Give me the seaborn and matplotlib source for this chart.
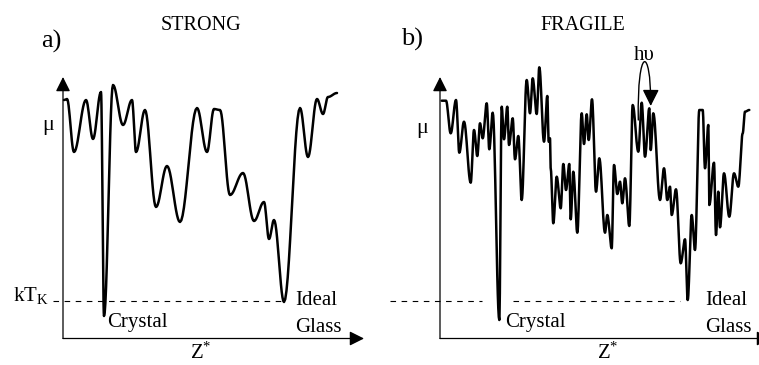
import numpy as np
import pandas as pd
import seaborn as sns
import matplotlib
matplotlib.use("Agg")
import matplotlib.pyplot as plt
from matplotlib.path import Path
from matplotlib.patches import FancyArrowPatch

# ---------------- data (schematic, pixel frame) ----------------
# STRONG landscape: extrema of the curve (x, y)
strong_x = [64, 67, 74, 86, 93, 101, 104, 113, 123, 132, 136, 145, 156, 167, 180, 197, 207,
            214, 220, 230, 243, 254, 264, 269, 274, 284, 300, 308, 317, 323, 328, 337]
strong_y = [100, 99, 152, 100, 139, 92, 316, 85, 125, 100, 152, 110, 207, 166, 222, 108, 152,
            109, 110, 195, 173, 221, 202, 239, 220, 302, 108, 157, 99, 114, 97, 93]

# FRAGILE landscape: extrema of the curve (x, y)
fragile_x = [441.7, 446.0, 450.7, 456.0, 459.3, 464.0, 470.7, 474.0, 477.3, 480.0, 482.7, 486.7,
             489.3, 492.7, 499.3, 501.7, 504.0, 507.3, 509.0, 512.7, 515.0, 518.3, 521.7, 526.7,
             530.0, 532.7, 536.7, 539.3, 544.0, 547.3, 548.7, 550.0, 550.7, 553.3, 556.7, 560.7,
             563.3, 566.0, 569.3, 570.7, 573.3, 577.3, 581.7, 584.0, 586.7, 588.7, 592.0, 596.0,
             599.3, 605.0, 607.3, 611.7, 614.0, 617.3, 620.0, 622.3, 625.0, 629.3, 632.7, 638.3,
             641.7, 645.0, 649.3, 650.7, 653.3, 660.0, 664.0, 667.3, 670.0, 671.7, 676.0, 680.7,
             685.0, 687.7, 691.7, 695.0, 699.3, 702.7, 705.0, 708.3, 709.3, 714.0, 716.0, 718.3,
             720.0, 724.0, 729.3, 734.0, 738.3, 742.7, 745.0, 749.3]
fragile_y = [100.7, 100.7, 133.3, 100.0, 152.7, 121.7, 182.7, 130.0, 156.0, 123.3, 138.3, 103.3,
             149.3, 112.7, 320.0, 106.7, 139.3, 106.7, 145.0, 118.3, 159.3, 136.0, 200.0, 80.0,
             113.3, 78.3, 114.0, 67.3, 141.7, 96.0, 141.7, 138.3, 168.3, 223.3, 176.7, 208.3,
             164.0, 190.0, 164.0, 219.3, 171.7, 232.7, 113.3, 144.0, 114.3, 140.0, 99.3, 191.7,
             158.3, 232.7, 215.0, 248.3, 165.0, 194.0, 181.7, 203.3, 178.3, 226.0, 105.0, 151.7,
             102.7, 156.7, 108.3, 150.0, 113.3, 200.0, 168.3, 200.0, 186.7, 215.0, 189.3, 263.3,
             239.3, 300.0, 215.0, 250.0, 110.0, 110.0, 168.3, 125.0, 205.0, 162.7, 235.0, 191.7,
             227.3, 173.3, 216.7, 173.3, 186.7, 133.3, 111.7, 110.0]

# Kauzmann level (dashed) segments
strong_dash_x = [53, 283]
fragile_dash_a = [390, 482]
fragile_dash_b = [513, 680]
kt_level = 300.5

panel_labels = ["a)", "b)"]
panel_titles = ["STRONG", "FRAGILE"]


def smooth(xs, ys, n=14):
    """Cosine easing between consecutive extrema (rendering only)."""
    ox, oy = [xs[0]], [ys[0]]
    for i in range(len(xs) - 1):
        t = np.linspace(0, 1, n)[1:]
        e = (1 - np.cos(np.pi * t)) / 2
        ox.extend(xs[i] + (xs[i + 1] - xs[i]) * t)
        oy.extend(ys[i] + (ys[i + 1] - ys[i]) * e)
    return pd.DataFrame({"x": ox, "y": oy})


sns.set_theme(style="white")
plt.rcParams["font.family"] = ["Liberation Serif", "DejaVu Serif"]
plt.rcParams["mathtext.fontset"] = "custom"
plt.rcParams["mathtext.rm"] = "Liberation Serif"
plt.rcParams["mathtext.it"] = "Liberation Serif:italic"

fig = plt.figure(figsize=(7.59, 3.65), dpi=100)
ax = fig.add_axes([0, 0, 1, 1])
ax.set_xlim(0, 759)
ax.set_ylim(365, 0)
ax.axis("off")

# curves
for xs, ys in [(strong_x, strong_y), (fragile_x, fragile_y)]:
    df = smooth(xs, ys)
    sns.lineplot(data=df, x="x", y="y", sort=False, estimator=None, ax=ax,
                 color="black", lw=1.8, solid_joinstyle="round")

# dashed Kauzmann lines
for seg in [strong_dash_x, fragile_dash_a, fragile_dash_b]:
    sns.lineplot(x=seg, y=[kt_level, kt_level], ax=ax, color="black", lw=0.8,
                 linestyle=(0, (5, 5)), estimator=None)

# axes arrows
arr = dict(arrowstyle="-|>,head_length=0.8,head_width=0.4", lw=0.9, color="black",
           mutation_scale=11, shrinkA=0, shrinkB=0)
for x0, xend in [(63, 364), (440, 771)]:
    ax.annotate("", xy=(x0, 77), xytext=(x0, 338.5), arrowprops=arr, annotation_clip=False)
    ax.annotate("", xy=(xend, 338.5), xytext=(x0, 338.5), arrowprops=arr, annotation_clip=False)

# h-nu curved arrow
p = Path([(638.3, 120), (637, 45), (651, 45), (650.7, 106)],
         [Path.MOVETO, Path.CURVE4, Path.CURVE4, Path.CURVE4])
ax.add_patch(FancyArrowPatch(path=p, arrowstyle="-|>,head_length=1.0,head_width=0.5",
                             mutation_scale=10, lw=1.0, color="black"))

fs = 15
txt = dict(color="black", fontsize=fs)
ax.text(51, 41, panel_labels[0], ha="center", va="center", fontsize=19, color="black")
ax.text(412, 39, panel_labels[1], ha="center", va="center", fontsize=19, color="black")
ax.text(201, 25, panel_titles[0], ha="center", va="center", fontsize=14.5, color="black")
ax.text(583, 25, panel_titles[1], ha="center", va="center", fontsize=14.5, color="black")
ax.text(644, 56, "h\u03c5", ha="center", va="center", **txt)

ax.text(42, 130, "\u03bc", ha="left", va="baseline", fontsize=16, color="black")
ax.text(416, 133, "\u03bc", ha="left", va="baseline", fontsize=16, color="black")
ax.text(13, 301, r"kT$_{\mathrm{K}}$", ha="left", va="baseline", **txt)

for cx, ix in [(107, 295), (505, 705)]:
    ax.text(cx, 327, "Crystal", ha="left", va="baseline", **txt)
    ax.text(ix, 305, "Ideal", ha="left", va="baseline", **txt)
    ax.text(ix, 332, "Glass", ha="left", va="baseline", **txt)

ax.text(190, 359, r"Z$^{*}$", ha="left", va="baseline", **txt)
ax.text(597, 359, r"Z$^{*}$", ha="left", va="baseline", **txt)

fig.savefig("out.png", dpi=100)
